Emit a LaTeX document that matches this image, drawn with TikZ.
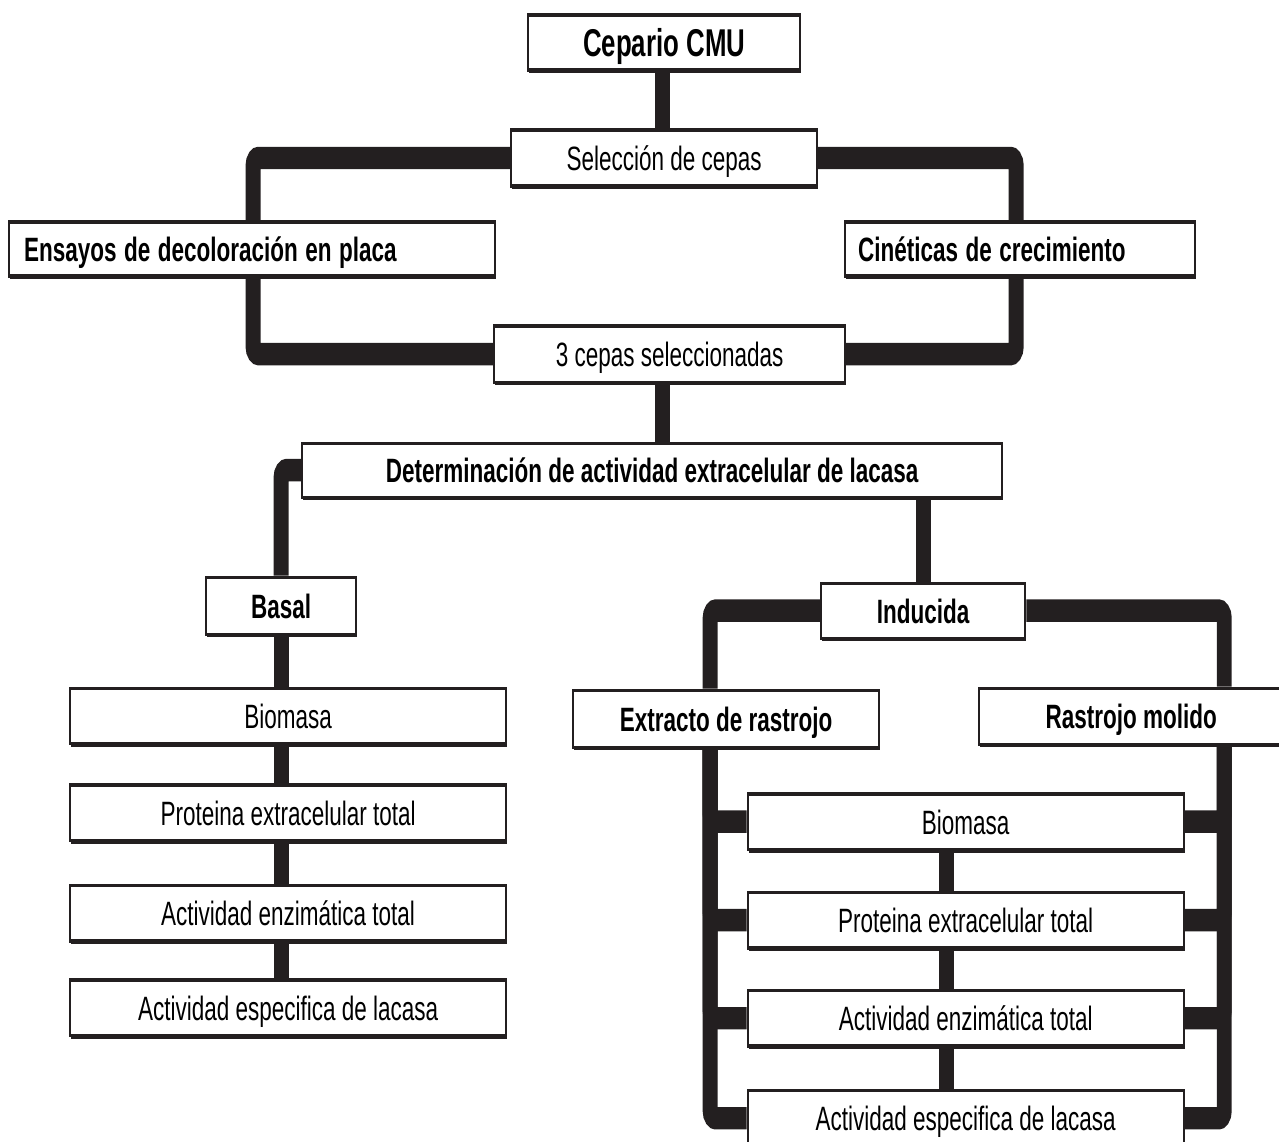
\documentclass[tikz,border=0pt]{standalone}
\usepackage{fontspec}
\setmainfont{Liberation Sans}
\usepackage{xcolor}
\usetikzlibrary{shadows}
\definecolor{ink}{RGB}{35,31,32}
\tikzset{
  box/.style={rectangle,draw=ink,line width=1.2pt,fill=white,inner sep=0pt,
    align=center,font=\fontsize{12.8}{15}\selectfont,text height=11.4pt,text depth=2pt,
    drop shadow={shadow xshift=0.5pt,shadow yshift=-1.2pt,fill=ink,opacity=1}},
  boldbox/.style={box,font=\fontsize{12.8}{15}\selectfont\bfseries},
  colbox/.style={box,minimum width=8.72cm,minimum height=0.74cm},
  conn/.style={draw=ink,line width=8.5pt,rounded corners=3pt}
}

\begin{document}
\begin{tikzpicture}
  \useasboundingbox (0,0) rectangle (25.58,-22.82);
  \begin{scope}[transform canvas={yscale=1.5},x=0.02cm,y=-0.013333cm]
  % spines
  \coordinate (cx) at (662,0);
  \coordinate (lx) at (253,0);
  \coordinate (rx) at (1016,0);
  \coordinate (lr) at (710,0);
  \coordinate (rr) at (1224,0);
  \coordinate (sx) at (946,0);
  % top part
  \node[boldbox,minimum width=5.44cm,minimum height=0.733cm,text height=12.3pt,text depth=2pt,
        font=\fontsize{14.7}{17}\selectfont\bfseries] (cmu) at (664,42.5) {Cepario CMU};
  \node[box,minimum width=6.12cm,minimum height=0.747cm] (sel) at (664,158) {Selección de cepas};
  \node[boldbox,text width=9.12cm,inner xsep=0.3cm,align=left,minimum height=0.72cm]
    (ens) at (252,249) {Ensayos de decoloración en placa};
  \node[boldbox,text width=6.48cm,inner xsep=0.26cm,align=left,minimum height=0.72cm]
    (cin) at (1020,249) {Cinéticas de crecimiento};
  \node[box,minimum width=7.02cm,minimum height=0.747cm] (tres) at (669.5,354) {3 cepas seleccionadas};
  \node[boldbox,minimum width=14cm,minimum height=0.72cm] (det) at (652,470)
    {Determinación de actividad extracelular de lacasa};
  \node[boldbox,minimum width=3cm,minimum height=0.76cm] (basal) at (281,605.5) {Basal};
  \node[boldbox,minimum width=4.08cm,minimum height=0.733cm] (ind) at (923,610.5) {Inducida};
  % basal column
  \node[colbox] (bioL) at (288,716) {Biomasa};
  \node[colbox] (protL) at (288,812.5) {Proteina extracelular total};
  \node[colbox] (actL) at (288,913) {Actividad enzimática total};
  \node[colbox] (espL) at (288,1007.5) {Actividad especifica de lacasa};
  % induced column
  \node[boldbox,minimum width=6.12cm,minimum height=0.76cm] (ext) at (726,718.5) {Extracto de rastrojo};
  \node[boldbox,minimum width=6.08cm,minimum height=0.747cm] (mol) at (1131,716) {Rastrojo molido};
  \node[colbox] (bioR) at (965.5,821.5) {Biomasa};
  \node[colbox] (protR) at (965.5,920) {Proteina extracelular total};
  \node[colbox] (actR) at (965.5,1018) {Actividad enzimática total};
  \node[colbox] (espR) at (965.5,1118) {Actividad especifica de lacasa};
  % connectors
  \draw[conn] (cmu.south -| cx) -- (sel.north -| cx);
  \draw[conn] (sel.west) -| (ens.north -| lx);
  \draw[conn] (sel.east) -| (cin.north -| rx);
  \draw[conn] (ens.south -| lx) |- (tres.west);
  \draw[conn] (cin.south -| rx) |- (tres.east);
  \draw[conn] (tres.south -| cx) -- (det.north -| cx);
  \draw[conn] (det.west) -| (basal.north);
  \draw[conn] (det.south -| ind) -- (ind.north);
  \draw[conn] (basal.south) -- (bioL.north -| basal);
  \draw[conn] (bioL.south -| basal) -- (protL.north -| basal);
  \draw[conn] (protL.south -| basal) -- (actL.north -| basal);
  \draw[conn] (actL.south -| basal) -- (espL.north -| basal);
  \draw[conn] (ind.west) -| (ext.north -| lr);
  \draw[conn] (ind.east) -| (mol.north -| rr);
  \foreach \n in {bioR,protR,actR,espR}{
    \draw[conn] (ext.south -| lr) |- (\n.west);
    \draw[conn] (mol.south -| rr) |- (\n.east);
  }
  \draw[conn] (bioR.south -| sx) -- (protR.north -| sx);
  \draw[conn] (protR.south -| sx) -- (actR.north -| sx);
  \draw[conn] (actR.south -| sx) -- (espR.north -| sx);
  \end{scope}
\end{tikzpicture}
\end{document}
